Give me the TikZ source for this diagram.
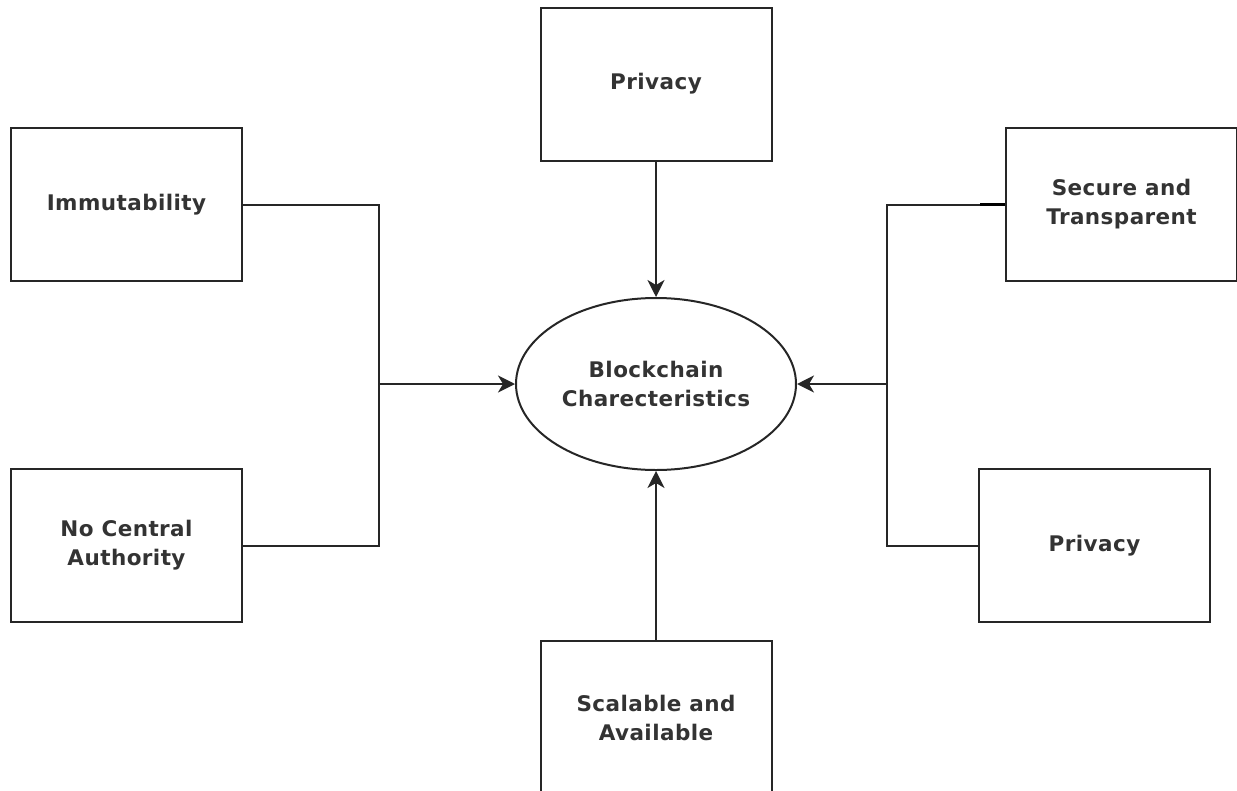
\documentclass[tikz,border=0pt]{standalone}
\usepackage{fontspec}
\setmainfont{DejaVu Sans}
\newfontfamily\labelfont[LetterSpace=2]{DejaVu Sans}
\usetikzlibrary{arrows.meta,shapes.geometric}
\begin{document}
\begin{tikzpicture}[x=1pt,y=-1pt,
  lbl/.style={font=\labelfont\fontsize{21.5}{29}\selectfont\bfseries,text=black!80,align=center},
  box/.style={lbl,draw=black!85,line width=2pt,minimum width=231pt,minimum height=153pt,inner sep=0pt},
  oval/.style={lbl,draw=black!85,line width=2pt,ellipse,minimum width=280pt,minimum height=172pt,inner sep=0pt},
  wire/.style={draw=black!85,line width=2pt},
  arr/.style={wire,-{Stealth[length=17pt,width=17pt,inset=5pt]}}]
\useasboundingbox (0,0) rectangle (1237,790);
\clip (0,0) rectangle (1237,790);
\node[box] (imm) at (126.5,204.5) {Immutability};
\node[box] (nca) at (126.5,545.5) {No Central\\Authority};
\node[box] (ptop) at (656,84) {Privacy};
\node[box] (sec) at (1121.5,204.5) {Secure and\\Transparent};
\node[box] (pr) at (1094.5,545.5) {Privacy};
\node[box] (sca) at (656,717.5) {Scalable and\\Available};
\node[oval] (bc) at (656,384) {Blockchain\\Charecteristics};
\coordinate (lj) at (379,384);
\coordinate (rj) at (887,384);
\coordinate (st) at (980,204.5);
\draw[wire] (imm.east) -| (lj) |- (nca.east);
\draw[arr] (lj) -- (bc.west);
\draw[wire] (sec.west) -- (st) -| (rj) |- (pr.west);
\draw[draw=black,line width=3.5pt] (st) -- (sec.west);
\draw[arr] (rj) -- (bc.east);
\draw[arr] (ptop.south) -- (bc.north);
\draw[arr] (sca.north) -- (bc.south);
\end{tikzpicture}
\end{document}
